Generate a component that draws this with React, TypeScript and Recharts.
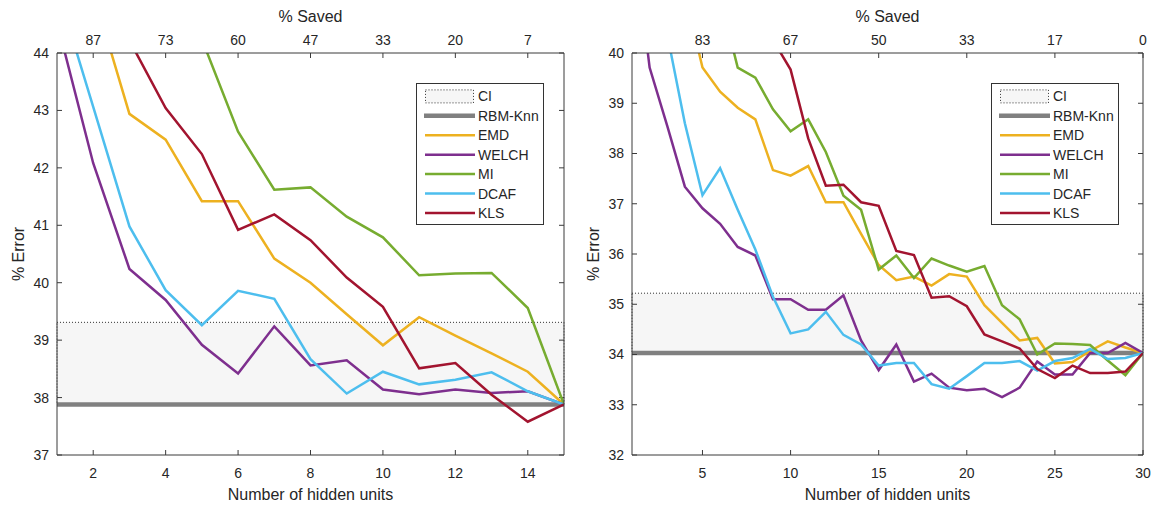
import React from 'react'
import { LineChart, Line, XAxis, YAxis, ReferenceArea, ReferenceLine, Legend } from 'recharts'

const FONT = '"Liberation Sans", Arial, Helvetica, sans-serif'
const AXIS = '#3a3a3a'
const TEXT = '#262626'
const TICK_LEN = 5
const CHART_W = 576
const CHART_H = 509
const Y_AXIS_W = 45
const RIGHT_AXIS_W = 5
const X_AXIS_H = 30
const MARGIN_TOP = 23
const MARGIN_BOTTOM = 24

const seriesNames = ['EMD', 'WELCH', 'MI', 'DCAF', 'KLS']
const seriesColors = ['#EDB120', '#7E2F8E', '#77AC30', '#4DBEEE', '#A2142F']

// left panel: 1..15 hidden units
const leftUnits = [1, 2, 3, 4, 5, 6, 7, 8, 9, 10, 11, 12, 13, 14, 15]
const leftBottomTicks = [2, 4, 6, 8, 10, 12, 14]
const leftSavedLabels = ['87', '73', '60', '47', '33', '20', '7']
const leftYTicks = [37, 38, 39, 40, 41, 42, 43, 44]
const leftRbm = 37.88
const leftCiTop = 39.31
const leftEMD = [null, 45.06, 42.94, 42.49, 41.42, 41.42, 40.42, 40.0, 39.45, 38.91, 39.4, 39.08, 38.77, 38.45, 37.88]
const leftWELCH = [44.54, 42.08, 40.24, 39.7, 38.92, 38.42, 39.24, 38.56, 38.65, 38.14, 38.06, 38.14, 38.08, 38.11, 37.88]
const leftMI = [null, null, null, null, 44.24, 42.63, 41.62, 41.66, 41.15, 40.79, 40.13, 40.16, 40.17, 39.56, 37.88]
const leftDCAF = [45.14, 43.06, 40.98, 39.87, 39.26, 39.86, 39.72, 38.67, 38.07, 38.45, 38.23, 38.31, 38.44, 38.11, 37.88]
const leftKLS = [null, null, 44.22, 43.04, 42.24, 40.92, 41.19, 40.74, 40.09, 39.58, 38.51, 38.6, 38.05, 37.58, 37.88]

// right panel: 1..30 hidden units
const rightUnits = [1, 2, 3, 4, 5, 6, 7, 8, 9, 10, 11, 12, 13, 14, 15, 16, 17, 18, 19, 20, 21, 22, 23, 24, 25, 26, 27, 28, 29, 30]
const rightBottomTicks = [5, 10, 15, 20, 25, 30]
const rightSavedLabels = ['83', '67', '50', '33', '17', '0']
const rightYTicks = [32, 33, 34, 35, 36, 37, 38, 39, 40]
const rightRbm = 34.03
const rightCiTop = 35.22
const rightEMD = [null, null, null, 41.2, 39.71, 39.23, 38.91, 38.68, 37.67, 37.56, 37.75, 37.03, 37.03, 36.4, 35.78, 35.48, 35.55, 35.37, 35.6, 35.55, 34.98, 34.63, 34.28, 34.33, 33.82, 33.85, 34.07, 34.26, 34.14, 34.03]
const rightWELCH = [42.6, 39.71, 38.55, 37.34, 36.91, 36.6, 36.14, 35.97, 35.1, 35.1, 34.89, 34.89, 35.18, 34.28, 33.69, 34.2, 33.46, 33.62, 33.34, 33.29, 33.32, 33.15, 33.34, 33.86, 33.6, 33.6, 34.03, 34.03, 34.23, 34.03]
const rightMI = [null, null, null, null, null, 41.1, 39.71, 39.51, 38.88, 38.44, 38.68, 38.03, 37.16, 36.88, 35.69, 35.97, 35.52, 35.91, 35.77, 35.65, 35.76, 34.98, 34.7, 34.0, 34.22, 34.21, 34.19, 33.88, 33.59, 34.03]
const rightDCAF = [null, null, 40.37, 38.6, 37.17, 37.71, 36.88, 36.09, 35.15, 34.42, 34.5, 34.85, 34.39, 34.2, 33.78, 33.83, 33.83, 33.41, 33.32, 33.57, 33.83, 33.83, 33.87, 33.68, 33.87, 33.93, 34.11, 33.91, 33.93, 34.03]
const rightKLS = [null, null, null, null, null, null, null, null, 40.26, 39.67, 38.3, 37.36, 37.38, 37.03, 36.96, 36.06, 35.98, 35.13, 35.16, 34.96, 34.4, 34.26, 34.12, 33.71, 33.53, 33.78, 33.63, 33.63, 33.66, 34.03]

const buildRows = (units: number[], series: (number | null)[][]) =>
  units.map((u, i) => {
    const row: Record<string, number | null> = { units: u }
    seriesNames.forEach((name, k) => {
      row[name] = series[k][i]
    })
    return row
  })

const LegendBox: React.FC = () => {
  const rowY = (k: number) => 13.4 + k * 19.43
  return (
    <svg width={128} height={142} style={{ display: 'block', fontFamily: FONT }}>
      <rect x={0.5} y={0.5} width={127} height={141} fill="#fff" stroke="#333" strokeWidth={1} />
      <rect x={9.5} y={rowY(0) - 6.5} width={48} height={13} fill="#f6f6f6" stroke="#333" strokeDasharray="1 2" />
      <text x={62} y={rowY(0) + 5} fontSize={14} fill={TEXT}>CI</text>
      <line x1={8} x2={59} y1={rowY(1)} y2={rowY(1)} stroke="#808080" strokeWidth={4.5} />
      <text x={62} y={rowY(1) + 5} fontSize={14} fill={TEXT}>RBM-Knn</text>
      {seriesNames.map((name, k) => (
        <g key={name}>
          <line x1={9} x2={59} y1={rowY(k + 2)} y2={rowY(k + 2)} stroke={seriesColors[k]} strokeWidth={2.5} />
          <text x={62} y={rowY(k + 2) + 5} fontSize={14} fill={TEXT}>{name}</text>
        </g>
      ))}
    </svg>
  )
}

type PanelProps = {
  units: number[]
  series: (number | null)[][]
  bottomTicks: number[]
  savedLabels: string[]
  yTicks: number[]
  rbm: number
  ciTop: number
  marginLeft: number
  marginRight: number
  legendLeft: number
}

const Panel: React.FC<PanelProps> = ({ units, series, bottomTicks, savedLabels, yTicks, rbm, ciTop, marginLeft, marginRight, legendLeft }) => {
  const rows = buildRows(units, series)
  const xDomain: [number, number] = [units[0], units[units.length - 1]]
  const yDomain: [number, number] = [yTicks[0], yTicks[yTicks.length - 1]]
  const savedFormat = (v: number) => savedLabels[bottomTicks.indexOf(v)] ?? ''
  const tickStyle = { fill: TEXT, fontSize: 14, fontFamily: FONT }

  // inward tick length converted to data units
  const plotW = CHART_W - marginLeft - Y_AXIS_W - marginRight - RIGHT_AXIS_W
  const plotH = CHART_H - MARGIN_TOP - MARGIN_BOTTOM - 2 * X_AXIS_H
  const dx = (TICK_LEN * (xDomain[1] - xDomain[0])) / plotW
  const dy = (TICK_LEN * (yDomain[1] - yDomain[0])) / plotH

  const xTickMarks = bottomTicks.flatMap((t) => [
    [{ x: t, y: yDomain[0] }, { x: t, y: yDomain[0] + dy }],
    [{ x: t, y: yDomain[1] }, { x: t, y: yDomain[1] - dy }],
  ])
  const yTickMarks = yTicks.flatMap((t) => [
    [{ x: xDomain[0], y: t }, { x: xDomain[0] + dx, y: t }],
    [{ x: xDomain[1], y: t }, { x: xDomain[1] - dx, y: t }],
  ])

  return (
    <LineChart
      width={CHART_W}
      height={CHART_H}
      data={rows}
      margin={{ top: MARGIN_TOP, right: marginRight, bottom: MARGIN_BOTTOM, left: marginLeft }}
      style={{ fontFamily: FONT }}
    >
      <ReferenceArea
        x1={xDomain[0]}
        x2={xDomain[1]}
        y1={rbm}
        y2={ciTop}
        fill="#f6f6f6"
        fillOpacity={1}
        stroke="#333"
        strokeDasharray="1 2"
        strokeWidth={1}
      />
      <ReferenceLine y={rbm} stroke="#808080" strokeWidth={4.5} />
      {[...xTickMarks, ...yTickMarks].map((seg, i) => (
        <ReferenceLine key={`tick-${i}`} segment={seg} stroke={AXIS} strokeWidth={1} ifOverflow="visible" />
      ))}
      <XAxis
        dataKey="units"
        type="number"
        domain={xDomain}
        allowDataOverflow
        ticks={bottomTicks}
        interval={0}
        tickSize={0}
        tickMargin={13}
        tickLine={false}
        height={X_AXIS_H}
        stroke={AXIS}
        tick={tickStyle}
        label={{ value: 'Number of hidden units', position: 'bottom', offset: 4, fill: TEXT, fontSize: 16 }}
      />
      <XAxis
        xAxisId="top"
        dataKey="units"
        orientation="top"
        type="number"
        domain={xDomain}
        allowDataOverflow
        ticks={bottomTicks}
        interval={0}
        tickSize={0}
        tickMargin={8}
        tickLine={false}
        height={X_AXIS_H}
        stroke={AXIS}
        tick={tickStyle}
        tickFormatter={savedFormat}
        label={{ value: '% Saved', position: 'top', offset: 1, fill: TEXT, fontSize: 16 }}
      />
      <YAxis
        type="number"
        domain={yDomain}
        allowDataOverflow
        ticks={yTicks}
        interval={0}
        tickSize={0}
        tickMargin={8}
        tickLine={false}
        width={Y_AXIS_W}
        stroke={AXIS}
        tick={tickStyle}
        label={{
          value: '% Error',
          angle: -90,
          position: 'insideLeft',
          offset: 6.5,
          fill: TEXT,
          fontSize: 16,
          textAnchor: 'middle',
          style: { textAnchor: 'middle' },
        }}
      />
      <YAxis
        yAxisId="right"
        orientation="right"
        type="number"
        domain={yDomain}
        allowDataOverflow
        ticks={yTicks}
        tickLine={false}
        tick={false}
        width={RIGHT_AXIS_W}
        stroke={AXIS}
      />
      {seriesNames.map((name, k) => (
        <Line
          key={name}
          type="linear"
          dataKey={name}
          stroke={seriesColors[k]}
          strokeWidth={2.5}
          dot={false}
          activeDot={false}
          isAnimationActive={false}
        />
      ))}
      <Legend
        layout="vertical"
        align="center"
        verticalAlign="middle"
        width={128}
        height={142}
        wrapperStyle={{ left: legendLeft, top: 83, width: 128, height: 142 }}
        content={() => <LegendBox />}
      />
    </LineChart>
  )
}

const App: React.FC = () => {
  return (
    <div style={{ position: 'absolute', left: 0, top: 0, width: 1152, height: 509, background: '#fff', fontFamily: FONT }}>
      <div style={{ position: 'absolute', left: 0, top: 0 }}>
        <Panel
          units={leftUnits}
          series={[leftEMD, leftWELCH, leftMI, leftDCAF, leftKLS]}
          bottomTicks={leftBottomTicks}
          savedLabels={leftSavedLabels}
          yTicks={leftYTicks}
          rbm={leftRbm}
          ciTop={leftCiTop}
          marginLeft={12}
          marginRight={7}
          legendLeft={416}
        />
      </div>
      <div style={{ position: 'absolute', left: 576, top: 0 }}>
        <Panel
          units={rightUnits}
          series={[rightEMD, rightWELCH, rightMI, rightDCAF, rightKLS]}
          bottomTicks={rightBottomTicks}
          savedLabels={rightSavedLabels}
          yTicks={rightYTicks}
          rbm={rightRbm}
          ciTop={rightCiTop}
          marginLeft={11}
          marginRight={4}
          legendLeft={415}
        />
      </div>
    </div>
  )
}

export default App
